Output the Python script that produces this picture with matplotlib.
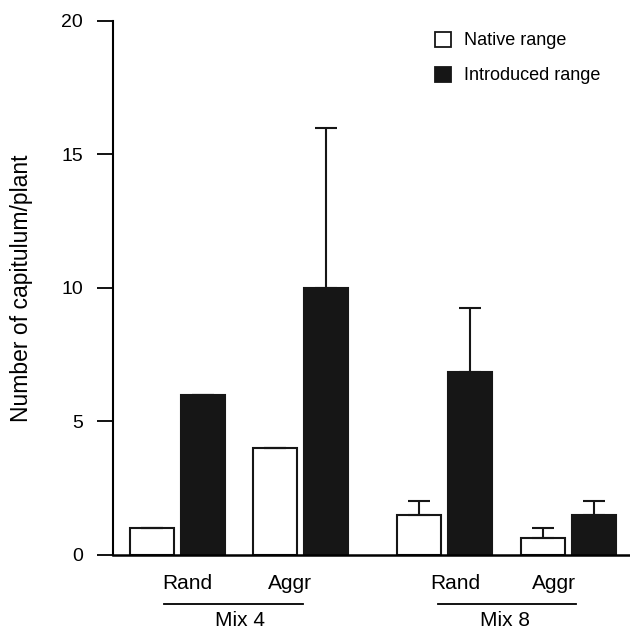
import numpy as np
import matplotlib
matplotlib.use("Agg")
import matplotlib.pyplot as plt
from matplotlib.patches import Patch

plt.rcParams['font.family'] = ['Liberation Sans', 'DejaVu Sans']

# Data
native_mean = [1.0, 4.0, 1.5, 0.65]
native_err = [0.0, 0.0, 0.5, 0.35]
intro_mean = [6.0, 10.0, 6.85, 1.5]
intro_err = [0.0, 6.0, 2.4, 0.5]

# layout (data units along x)
group_pos = np.array([0.0, 2.67, 5.80, 8.49])
sub_labels = ['Rand', 'Aggr', 'Rand', 'Aggr']
sub_label_x = [0.22, 2.43, 6.04, 8.17]
mix_labels = ['Mix 4', 'Mix 8']
mix_label_x = [1.35, 7.11]
mix_line_x = [(-0.30, 2.72), (5.65, 8.65)]

fig = plt.figure(figsize=(6.3, 6.32), dpi=100)
ax = fig.add_axes([0.179, 0.122, 0.821, 0.845])

off = 0.55
w = 0.96
dark = '#161616'
ekw = dict(elinewidth=1.5, capthick=1.5, ecolor='#161616')
ax.bar(group_pos - off, native_mean, w, color='white', edgecolor=dark, linewidth=1.5,
       yerr=[np.zeros(4), native_err], capsize=8, error_kw=ekw, zorder=2)
ax.bar(group_pos + off, intro_mean, w, color=dark, edgecolor=dark, linewidth=1.5,
       yerr=[np.zeros(4), intro_err], capsize=8, error_kw=ekw, zorder=2)

ax.set_xlim(-1.41, 9.83)
ax.set_ylim(0, 20)
ax.set_yticks([0, 5, 10, 15, 20])
ax.set_xticks([])
ax.tick_params(axis='y', direction='out', length=11.5, width=1.3, pad=10, labelsize=14)
for s in ['top', 'right']:
    ax.spines[s].set_visible(False)
ax.spines['left'].set_linewidth(1.5)
ax.spines['bottom'].set_linewidth(1.8)
ax.set_ylabel('Number of capitulum/plant', fontsize=16.5, labelpad=20)

trans = ax.get_xaxis_transform()
for x, lab in zip(sub_label_x, sub_labels):
    ax.text(x, -0.054, lab, transform=trans, ha='center', va='center', fontsize=15, clip_on=False)
for (x0, x1) in mix_line_x:
    ax.plot([x0, x1], [-0.092, -0.092], transform=trans, color='black', lw=1.3, clip_on=False)
for x, lab in zip(mix_label_x, mix_labels):
    ax.text(x, -0.123, lab, transform=trans, ha='center', va='center', fontsize=15, clip_on=False)

handles = [Patch(facecolor='white', edgecolor=dark, linewidth=1.3, label='Native range'),
           Patch(facecolor=dark, edgecolor=dark, linewidth=1.3, label='Introduced range')]
ax.legend(handles=handles, loc='upper left', bbox_to_anchor=(0.592, 1.01), frameon=False,
          fontsize=13, handlelength=0.9, handleheight=0.9, handletextpad=0.7, labelspacing=0.95)

fig.savefig('out.png', dpi=100)
